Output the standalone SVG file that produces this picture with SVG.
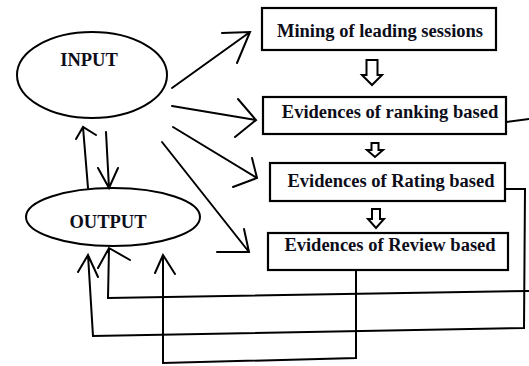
<svg xmlns="http://www.w3.org/2000/svg" width="529" height="366" viewBox="0 0 529 366">
<style>
.bg{fill:#fff}
.shape{fill:#fff;stroke:#000;stroke-width:2}
.box{fill:#fff;stroke:#000;stroke-width:2.2}
.ln{fill:none;stroke:#000;stroke-width:2;stroke-linecap:round;stroke-linejoin:miter}
.hol{fill:#fff;stroke:#000;stroke-width:2;stroke-linejoin:miter}
.t{font-family:"Liberation Serif","Times New Roman",serif;font-weight:bold;font-size:18.5px;fill:#0d0d1a;text-anchor:middle}
</style>
<rect class="bg" x="0" y="0" width="529" height="366"/>
<g id="input">
<ellipse class="shape" cx="92" cy="75" rx="75" ry="43"/>
<text class="t" x="89" y="66">INPUT</text>
</g>
<g id="output">
<ellipse class="shape" cx="113" cy="217" rx="87" ry="29"/>
<text class="t" x="108" y="228">OUTPUT</text>
</g>
<g id="mining">
<rect class="box" x="262" y="8" width="234" height="42"/>
<text class="t" x="380" y="37">Mining of leading sessions</text>
</g>
<g id="ranking">
<rect class="box" x="263" y="97" width="243" height="37"/>
<text class="t" x="390" y="118">Evidences of ranking based</text>
</g>
<g id="rating">
<rect class="box" x="270" y="163" width="235" height="38"/>
<text class="t" x="391" y="187">Evidences of Rating based</text>
</g>
<g id="review">
<rect class="box" x="268" y="233" width="240" height="37"/>
<text class="t" x="390" y="251">Evidences of Review based</text>
</g>
<g id="connectors">
<polygon class="hol" points="366.5,60 377.5,60 377.5,75 382,75 372,85 362,75 366.5,75"/>
<polygon class="hol" points="371.5,143 378.5,143 378.5,150 383,150 375,157 367,150 371.5,150"/>
<polygon class="hol" points="372,209 380,209 380,219 384,219 376,228 368,219 372,219"/>
<path class="ln" d="M172,88 L250,32 M222,33 L250,32 L237,63"/>
<path class="ln" d="M172,106 L256,120 M238,99 L256,120 L235,137"/>
<path class="ln" d="M173,127 L257,178 M252,158 L257,178 L233,187"/>
<path class="ln" d="M162,142 L249,252 M244,229 L249,252 L217,252"/>
<path class="ln" d="M88,188 L83,127 M76,139 L83,127 L96,135"/>
<path class="ln" d="M106,132 L109,188 M98,168 L109,188 L118,168"/>
<path class="ln" d="M506,122 L529,119"/>
<path class="ln" d="M529,291 L108,298 L109,248 M98,268 L109,248 L130,260"/>
<path class="ln" d="M505,189 L525,189 L524,328 L93,336 L88,255 M78,272 L88,255 L98,277"/>
<path class="ln" d="M356,271 L356,358 L163,363 L163,255 M155,273 L163,255 L175,274"/>
</g>
</svg>
